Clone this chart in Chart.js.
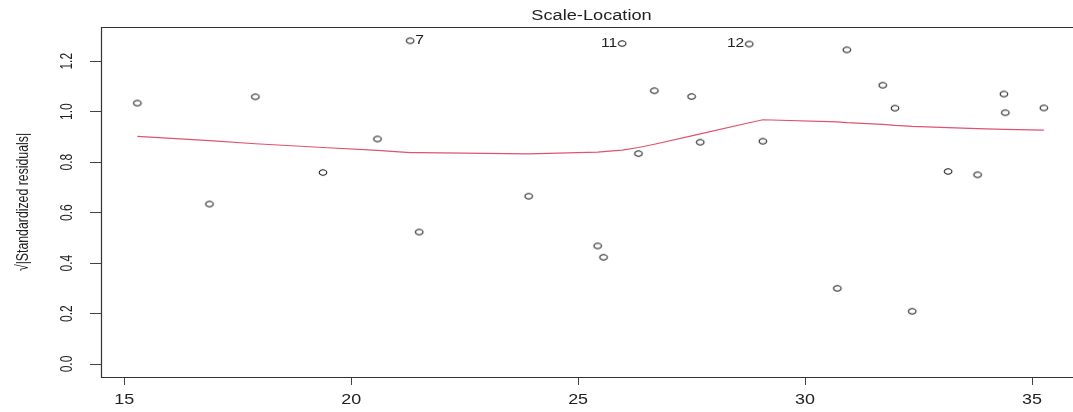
<!DOCTYPE html>
<html>
<head>
<meta charset="utf-8">
<script src="https://cdn.jsdelivr.net/npm/chart.js@4/dist/chart.umd.min.js"></script>
<style>
  html, body { margin: 0; padding: 0; background: #fff; overflow: hidden; }
  #wrap { width: 1100px; height: 412px; }
</style>
</head>
<body>
<div id="wrap"><canvas id="c" width="1100" height="412"></canvas></div>
<script>
// ---- data ----
const fittedValues = [15.29, 16.88, 17.89, 19.38, 20.58, 21.30, 21.50, 23.91, 25.43, 25.56, 25.97, 26.33, 26.68, 27.50, 27.69, 28.77, 29.07, 30.71, 30.92, 31.71, 31.98, 32.36, 33.15, 33.80, 34.38, 34.41, 35.26];
const sqrtStdResiduals = [1.034, 0.634, 1.059, 0.759, 0.892, 1.281, 0.523, 0.665, 0.468, 0.423, 1.270, 0.834, 1.083, 1.060, 0.879, 1.268, 0.883, 0.300, 1.245, 1.105, 1.014, 0.209, 0.763, 0.750, 1.070, 0.996, 1.015];
const obsLabels = ['', '', '', '', '', '7', '', '', '', '', '11', '', '', '', '', '12', '', '', '', '', '', '', '', '', '', '', ''];
const smoothY = [0.902, 0.885, 0.873, 0.858, 0.847, 0.838, 0.838, 0.833, 0.840, 0.842, 0.848, 0.858, 0.871, 0.904, 0.912, 0.956, 0.968, 0.960, 0.957, 0.950, 0.946, 0.942, 0.937, 0.933, 0.930, 0.930, 0.927];
const xTicks = [15, 20, 25, 30, 35];
const yTicks = [0, 0.2, 0.4, 0.6, 0.8, 1.0, 1.2];
const yTickLabels = ['0.0', '0.2', '0.4', '0.6', '0.8', '1.0', '1.2'];
const chartTitle = 'Scale-Location';
const yAxisTitle = '\u221A|Standardized residuals|';

// ---- open ellipse marker ----
const marker = document.createElement('canvas');
marker.width = 12; marker.height = 9;
(function () {
  const m = marker.getContext('2d');
  m.strokeStyle = '#1a1a1a';
  m.lineWidth = 1.05;
  m.beginPath();
  m.ellipse(6, 4.5, 3.8, 2.7, 0, 0, Math.PI * 2);
  m.stroke();
})();

const FONT = '"Liberation Sans", Arial, sans-serif';

function stretchedText(ctx, text, x, y, size, sx, align) {
  ctx.save();
  ctx.font = size + 'px ' + FONT;
  ctx.textAlign = align || 'center';
  ctx.textBaseline = 'middle';
  ctx.translate(x, y);
  ctx.scale(sx, 1);
  ctx.fillText(text, 0, 0);
  ctx.restore();
}
function rotatedText(ctx, text, x, y, size, sy) {
  ctx.save();
  ctx.font = size + 'px ' + FONT;
  ctx.textAlign = 'center';
  ctx.textBaseline = 'middle';
  ctx.translate(x, y);
  ctx.rotate(-Math.PI / 2);
  ctx.scale(1, sy);
  ctx.fillText(text, 0, 0);
  ctx.restore();
}

const decor = {
  id: 'decor',
  afterDatasetsDraw(chart) {
    const ctx = chart.ctx;
    const a = chart.chartArea;
    const xs = chart.scales.x, ys = chart.scales.y;
    ctx.save();
    // box (right side lies beyond the visible window)
    ctx.strokeStyle = '#333';
    ctx.lineWidth = 1.2;
    ctx.beginPath();
    ctx.moveTo(a.right + 0.5, a.top + 0.5);
    ctx.lineTo(a.left + 0.5, a.top + 0.5);
    ctx.lineTo(a.left + 0.5, a.bottom + 0.5);
    ctx.lineTo(a.right + 0.5, a.bottom + 0.5);
    ctx.stroke();
    // point labels
    ctx.fillStyle = '#222';
    const mid = (Math.min(...fittedValues) + Math.max(...fittedValues)) / 2;
    obsLabels.forEach((lab, i) => {
      if (!lab) return;
      const px = xs.getPixelForValue(fittedValues[i]);
      const py = ys.getPixelForValue(sqrtStdResiduals[i]);
      if (fittedValues[i] < mid) stretchedText(ctx, lab, px + 5, py, 12, 1.3, 'left');
      else stretchedText(ctx, lab, px - 5, py, 12, 1.3, 'right');
    });
    // title
    stretchedText(ctx, chartTitle, (a.left + a.right) / 2, 16, 14, 1.3, 'center');
    // x tick labels
    xTicks.forEach(v => stretchedText(ctx, String(v), xs.getPixelForValue(v), 400, 14, 1.28, 'center'));
    // y tick labels
    yTicks.forEach((v, i) => rotatedText(ctx, yTickLabels[i], 68, ys.getPixelForValue(v), 12, 1.35));
    // y axis title
    rotatedText(ctx, yAxisTitle, 23, (a.top + a.bottom) / 2, 12.3, 1.4);
    ctx.restore();
  }
};

new Chart(document.getElementById('c'), {
  type: 'scatter',
  data: {
    datasets: [
      {
        type: 'line',
        data: fittedValues.map((x, i) => ({ x: x, y: smoothY[i] })),
        borderColor: '#DF536B',
        borderWidth: 1.2,
        pointRadius: 0,
        tension: 0,
        fill: false,
        order: 0
      },
      {
        data: fittedValues.map((x, i) => ({ x: x, y: sqrtStdResiduals[i] })),
        pointStyle: marker,
        pointRadius: 4,
        order: 1
      }
    ]
  },
  options: {
    responsive: false,
    animation: false,
    devicePixelRatio: 1,
    layout: { padding: { left: 0, right: 18, top: 27, bottom: 0 } },
    plugins: { legend: { display: false }, tooltip: { enabled: false }, title: { display: false } },
    scales: {
      x: {
        type: 'linear',
        min: 14.49, max: 36.1,
        afterBuildTicks: s => { s.ticks = xTicks.map(v => ({ value: v })); },
        afterFit: s => { s.height = 35; },
        ticks: { display: false },
        border: { display: false },
        grid: { display: true, drawOnChartArea: false, drawTicks: true, tickLength: 8, tickColor: '#444', lineWidth: 1 }
      },
      y: {
        type: 'linear',
        min: -0.0514, max: 1.3356,
        afterBuildTicks: s => { s.ticks = yTicks.map(v => ({ value: v })); },
        afterFit: s => { s.width = 101; },
        ticks: { display: false },
        border: { display: false },
        grid: { display: true, drawOnChartArea: false, drawTicks: true, tickLength: 11, tickColor: '#444', lineWidth: 1 }
      }
    }
  },
  plugins: [decor]
});
</script>
</body>
</html>
